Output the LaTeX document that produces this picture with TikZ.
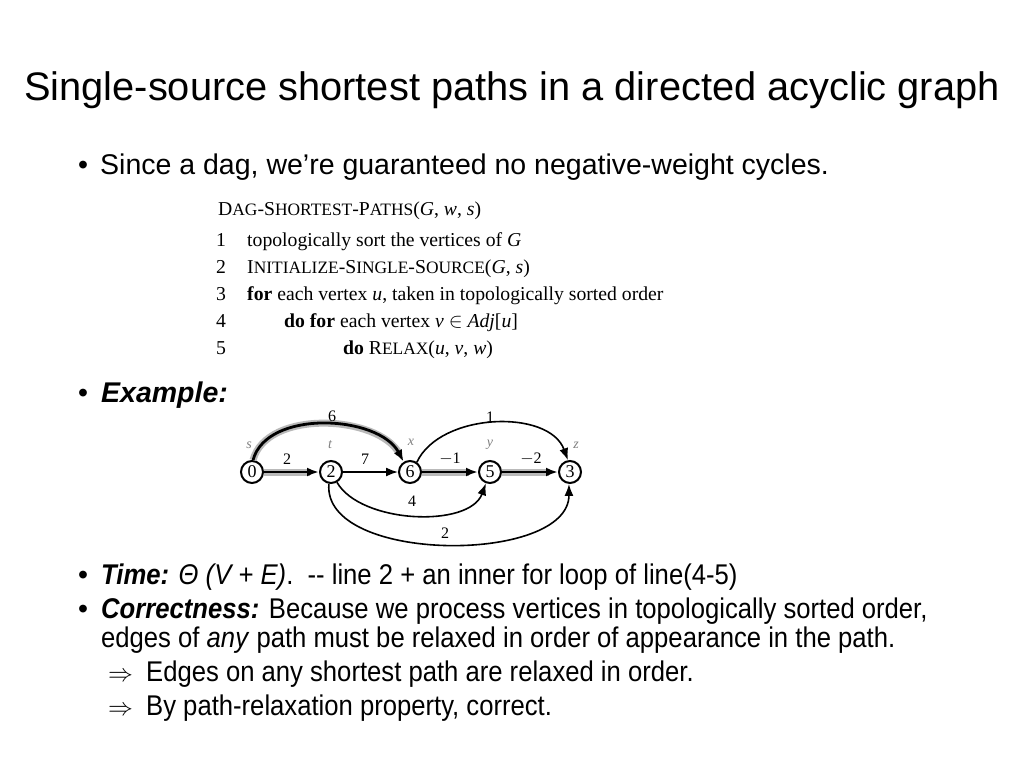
\documentclass[tikz,border=0pt]{standalone}
\usepackage{fontspec}
\usepackage{graphicx}
\setmainfont{Liberation Sans}
\newfontfamily\tm{Liberation Serif}
\usetikzlibrary{arrows.meta}
\newcommand\mysc[1]{{\fontsize{17.4}{17.4}\selectfont #1}}
\newcommand\narrow[1]{\scalebox{0.9}[1]{#1}}
\begin{document}
\begin{tikzpicture}[x=1pt,y=-1pt,
 title/.style={anchor=base, inner sep=0pt, font=\fontsize{39.8}{40}\selectfont},
 txt/.style={anchor=base west, inner sep=0pt, font=\fontsize{28.5}{30}\selectfont},
 code/.style={anchor=base west, inner sep=0pt, font=\tm\fontsize{19.7}{20}\selectfont},
 vtx/.style={circle, draw, line width=2pt, fill=white, minimum size=22pt, inner sep=0pt, font=\tm\fontsize{18}{18}\selectfont},
 vname/.style={font=\tm\itshape\fontsize{14}{14}\selectfont, text=gray, inner sep=0pt},
 elbl/.style={font=\tm\fontsize{16}{16}\selectfont, inner sep=0pt},
 arr/.style={-{Latex[length=12pt,width=9pt]}, line width=1.6pt},
 tree/.style={-{Latex[length=12pt,width=9pt]}, line width=2.8pt},
 shade/.style={line width=7pt, gray!55, shorten >=9pt},
]
\useasboundingbox (0,0) rectangle (1024,768);
\fill[white] (0,0) rectangle (1024,768);

% title
\node[title] (ttl) at (512,100) {Single-source shortest paths in a directed acyclic graph};

% bullet 1
\node[txt] (b1) at (78,174) {•};
\node[txt] (t1) at (100,174) {Since a dag, we’re guaranteed no negative-weight cycles.};

% pseudocode
\node[code] (c0) at (218,215) {D\mysc{AG}-S\mysc{HORTEST}-P\mysc{ATHS}(\textit{G}, \textit{w}, \textit{s})};
\node[code] (n1) at (216,246) {1};
\node[code] (l1) at (247,246) {topologically sort the vertices of \textit{G}};
\node[code] (n2) at (216,273) {2};
\node[code] (l2) at (247,273) {I\mysc{NITIALIZE}-S\mysc{INGLE}-S\mysc{OURCE}(\textit{G}, \textit{s})};
\node[code] (n3) at (216,300) {3};
\node[code] (l3) at (247,300) {\textbf{for} each vertex \textit{u}, taken in topologically sorted order};
\node[code] (n4) at (216,327) {4};
\node[code] (l4) at (284,327) {\textbf{do for} each vertex \textit{v} $\in$ \textit{Adj}[\textit{u}]};
\node[code] (n5) at (216,354) {5};
\node[code] (l5) at (343,354) {\textbf{do} R\mysc{ELAX}(\textit{u}, \textit{v}, \textit{w})};

% Example
\node[txt] (b2) at (78,402) {•};
\node[txt] (t2) at (101,402) {\textbf{\textit{Example:}}};

% graph
\node[vtx] (s) at (252,472) {0};
\node[vtx] (t) at (331,472) {2};
\node[vtx] (x) at (410,472) {6};
\node[vtx] (y) at (490,472) {5};
\node[vtx] (z) at (570,472) {3};

\node[vname] (sn) at (249,445) {s};
\node[vname] (tn) at (330,445) {t};
\node[vname] (xn) at (411,442) {x};
\node[vname] (yn) at (490,445) {y};
\node[vname] (zn) at (576,445) {z};

% shaded (shortest-path tree) underlays
\draw[shade] (s.85) to[out=75,in=118,looseness=0.9] (x.122);
\draw[shade] (s) -- (t);
\draw[shade] (x) -- (y);
\draw[shade] (y) -- (z);

% edges
\draw[tree] (s.85) to[out=75,in=118,looseness=0.9] (x.122);
\draw[tree] (s) -- (t);
\draw[arr] (t) -- (x);
\draw[tree] (x) -- (y);
\draw[tree] (y) -- (z);
\draw[arr] (x.55) to[out=65,in=110,looseness=0.93] (z.100);
\draw[arr] (t.-60) to[out=-60,in=-110,looseness=0.82] (y.-110);
\draw[arr] (t.-100) to[out=-95,in=-90,looseness=0.86] (z.-95);

% edge labels
\node[elbl] (w1) at (287,459) {2};
\node[elbl] (w2) at (365,459) {7};
\node[elbl] (w3) at (450,459) {$-$1};
\node[elbl] (w4) at (531,459) {$-$2};
\node[elbl] (w5) at (332,416) {6};
\node[elbl] (w6) at (490,417) {1};
\node[elbl] (w7) at (412,501) {4};
\node[elbl] (w8) at (445,533) {2};

% Time
\node[txt] (b3) at (78,584) {•};
\node[txt] (t3) at (101,584) {\narrow{\textbf{\textit{Time:}} \textit{Θ (V + E)}.\ \ -{}- line 2 + an inner for loop of line(4-5)}};

% Correctness
\node[txt] (b4) at (78,618) {•};
\node[txt] (t4) at (101,618) {\narrow{\textbf{\textit{Correctness:}} Because we process vertices in topologically sorted order,}};
\node[txt] (t5) at (101,647) {\narrow{edges of \textit{any} path must be relaxed in order of appearance in the path.}};
\node[txt] (a6) at (108,681) {$\Rightarrow$};
\node[txt] (t6) at (146,681) {\narrow{Edges on any shortest path are relaxed in order.}};
\node[txt] (a7) at (108,715) {$\Rightarrow$};
\node[txt] (t7) at (146,715) {\narrow{By path-relaxation property, correct.}};
\end{tikzpicture}
\end{document}
